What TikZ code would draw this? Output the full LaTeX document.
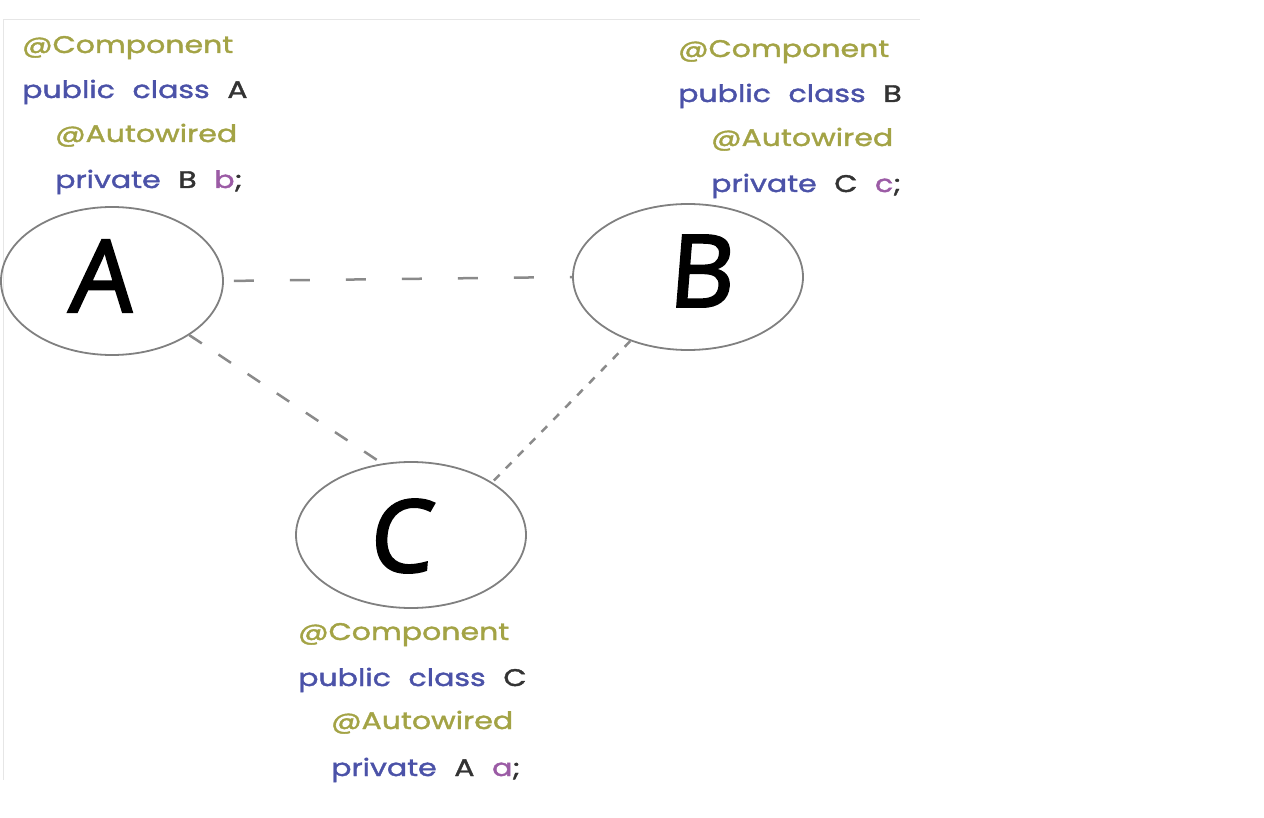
\documentclass[tikz,border=0pt]{standalone}
\usepackage{fontspec}
\setmainfont{Poppins}[FakeStretch=1.25, FakeBold=1.6, WordSpace=2.2]
\newfontfamily\bigletter{Open Sans}[FakeBold=2.5, FakeSlant=0.08]
\usetikzlibrary{shapes.geometric}
\definecolor{anno}{HTML}{A3A345}
\definecolor{kw}{HTML}{4B52A8}
\definecolor{cls}{HTML}{333333}
\definecolor{fld}{HTML}{9B5BA5}
\definecolor{edge}{HTML}{8A8A8A}
\definecolor{ring}{HTML}{808080}
\definecolor{frame}{HTML}{E6E6E6}
\tikzset{
  bean/.style={ellipse, draw=ring, line width=1.8pt, inner sep=0pt},
  biglet/.style={font=\bigletter\fontsize{100}{110}\selectfont, text=black, inner sep=0pt},
  code/.style={anchor=base west, inner sep=0pt, font=\fontsize{24}{26}\selectfont},
  depA/.style={draw=edge, line width=2.5pt, dash pattern=on 20pt off 36pt},
  depB/.style={draw=edge, line width=2.5pt, dash pattern=on 15pt off 20pt},
  depC/.style={draw=edge, line width=2.5pt, dash pattern=on 8pt off 9pt},
  framestyle/.style={draw=frame, line width=1pt}
}
\begin{document}
\begin{tikzpicture}[x=1pt,y=-1pt]
\useasboundingbox (0,0) rectangle (1264,818);
% faint frame
\coordinate (f1) at (920,20);
\coordinate (f2) at (3,20);
\coordinate (f3) at (3,780);
\draw[framestyle] (f1) -- (f2) -- (f3);
% beans
\node[bean, minimum width=222pt, minimum height=148pt] (A) at (112,281) {};
\node[bean, minimum width=230pt, minimum height=146pt] (B) at (688,277) {};
\node[bean, minimum width=230pt, minimum height=146pt] (C) at (411,535) {};
\node[biglet] (lA) at (100,276) {A};
\node[biglet] (lB) at (700,271) {B};
\node[biglet] (lC) at (400,536) {C};
% dependencies
\draw[depA, shorten <=10pt] (A.east) -- (B.west);
\draw[depB] (A.-35) -- (C.112);
\draw[depC] (B.-132) -- (C.33);
% code A
\node[code, text=anno] (a1) at (22,53) {@Component};
\node[code] (a2) at (22,98) {\textcolor{kw}{public class} \textcolor{cls}{A}};
\node[code, text=anno] (a3) at (55,142) {@Autowired};
\node[code] (a4) at (55,188) {\textcolor{kw}{private} \textcolor{cls}{B} \textcolor{fld}{b}\textcolor{cls}{;}};
% code B
\node[code, text=anno] (b1) at (678,57) {@Component};
\node[code] (b2) at (678,102) {\textcolor{kw}{public class} \textcolor{cls}{B}};
\node[code, text=anno] (b3) at (711,146) {@Autowired};
\node[code] (b4) at (711,192) {\textcolor{kw}{private} \textcolor{cls}{C} \textcolor{fld}{c}\textcolor{cls}{;}};
% code C
\node[code, text=anno] (c1) at (298,640) {@Component};
\node[code] (c2) at (298,686) {\textcolor{kw}{public class} \textcolor{cls}{C}};
\node[code, text=anno] (c3) at (331,729) {@Autowired};
\node[code] (c4) at (331,776) {\textcolor{kw}{private} \textcolor{cls}{A} \textcolor{fld}{a}\textcolor{cls}{;}};
\end{tikzpicture}
\end{document}
